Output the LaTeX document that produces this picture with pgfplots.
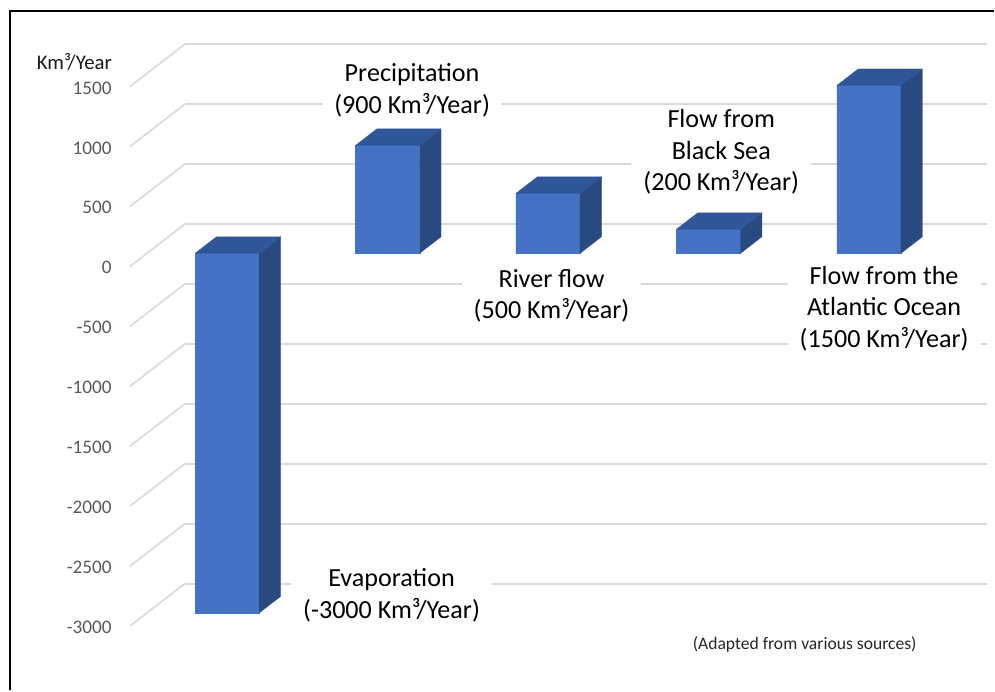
\documentclass[border=0pt]{standalone}
\usepackage{pgfplots}
\usepackage{pgfplotstable}
\pgfplotsset{compat=1.18}
\usepackage{fontspec}
\setmainfont{Carlito}
\definecolor{barfront}{HTML}{4472C4}
\definecolor{bartop}{HTML}{30569A}
\definecolor{barside}{HTML}{294A80}
\definecolor{gridc}{HTML}{D9D9D9}
\definecolor{tickc}{HTML}{595959}

\pgfplotstableread{
idx value
1 -3000
2 900
3 500
4 200
5 1400
}\datatable

\def\df{0.31}
\def\db{0.70}
\newcommand{\cuboid}[2]{%
  \pgfmathsetmacro{\xl}{#1-0.2}%
  \pgfmathsetmacro{\xr}{#1+0.2}%
  \pgfmathsetmacro{\zt}{max(#2,0)}%
  \edef\doplot{%
    \noexpand\addplot3[fill=barfront,draw=barfront,line width=0.2pt,mark=none] coordinates {(\xl,\df,0) (\xr,\df,0) (\xr,\df,#2) (\xl,\df,#2) (\xl,\df,0)};
    \noexpand\addplot3[fill=barside,draw=barside,line width=0.2pt,mark=none] coordinates {(\xr,\df,0) (\xr,\db,0) (\xr,\db,#2) (\xr,\df,#2) (\xr,\df,0)};
    \noexpand\addplot3[fill=bartop,draw=bartop,line width=0.2pt,mark=none] coordinates {(\xl,\df,\zt) (\xr,\df,\zt) (\xr,\db,\zt) (\xl,\db,\zt) (\xl,\df,\zt)};
  }\doplot}

\begin{document}
\begin{tikzpicture}
\begin{axis}[
  x={(120.45pt,0pt)},
  y={(41.25pt,31.8pt)},
  z={(0pt,0.09pt)},
  xmin=0.5, xmax=5.5,
  ymin=0, ymax=1,
  zmin=-3000, zmax=1500,
  xtick=\empty, ytick=\empty,
  ztick={-3000,-2500,...,1500},
  scaled z ticks=false,
  zmajorgrids=true,
  xmajorgrids=false, ymajorgrids=false,
  major grid style={draw=gridc, line width=1.2pt},
  axis line style={draw=none},
  ztick style={draw=none},
  major tick length=0pt,
  clip=false,
  z tick label style={anchor=east, inner sep=0pt, xshift=-13.5pt, yshift=-1pt,
    font=\fontsize{14.4}{17}\selectfont, text=tickc},
  /pgf/number format/assume math mode=true,
  /pgf/number format/1000 sep={},
]
\pgfplotsforeachungrouped \r in {0,...,4}{%
  \pgfplotstablegetelem{\r}{idx}\of\datatable \let\cx\pgfplotsretval
  \pgfplotstablegetelem{\r}{value}\of\datatable \let\cv\pgfplotsretval
  \cuboid{\cx}{\cv}%
}
% data labels
\tikzset{dl/.style={fill=white, align=center, inner xsep=9pt, inner ysep=3pt,
  font=\fontsize{19.6}{23.8}\selectfont, text=black}}
\node[dl] at (axis cs:2.259,0,1472) {Precipitation\\(900 Km³/Year)};
\node[dl] at (axis cs:4.186,0,956) {Flow from\\Black Sea\\(200 Km³/Year)};
\node[dl] at (axis cs:3.128,0,-244) {River flow\\(500 Km³/Year)};
\node[dl] at (axis cs:5.201,0,-352) {Flow from the\\Atlantic Ocean\\(1500 Km³/Year)};
\node[dl] at (axis cs:2.131,0,-2744) {Evaporation\\(-3000 Km³/Year)};
\node[font=\fontsize{15.6}{18}\selectfont, text=black!90, inner sep=0pt] at (axis cs:0.1544,0,1706) {Km³/Year};
\node[font=\fontsize{13.2}{16}\selectfont, text=black!85, inner sep=0pt] at (axis cs:4.706,0,-3152) {(Adapted from various sources)};
% frame and page
\draw[line width=1.5pt, black] (axis cs:-0.2472,0,-3536) -- (axis cs:-0.2472,0,2131) -- (axis cs:5.886,0,2131);
\path (axis cs:-0.3095,0,2222.5) rectangle (axis cs:5.886,0,-3535.8);
\end{axis}
\end{tikzpicture}
\end{document}
